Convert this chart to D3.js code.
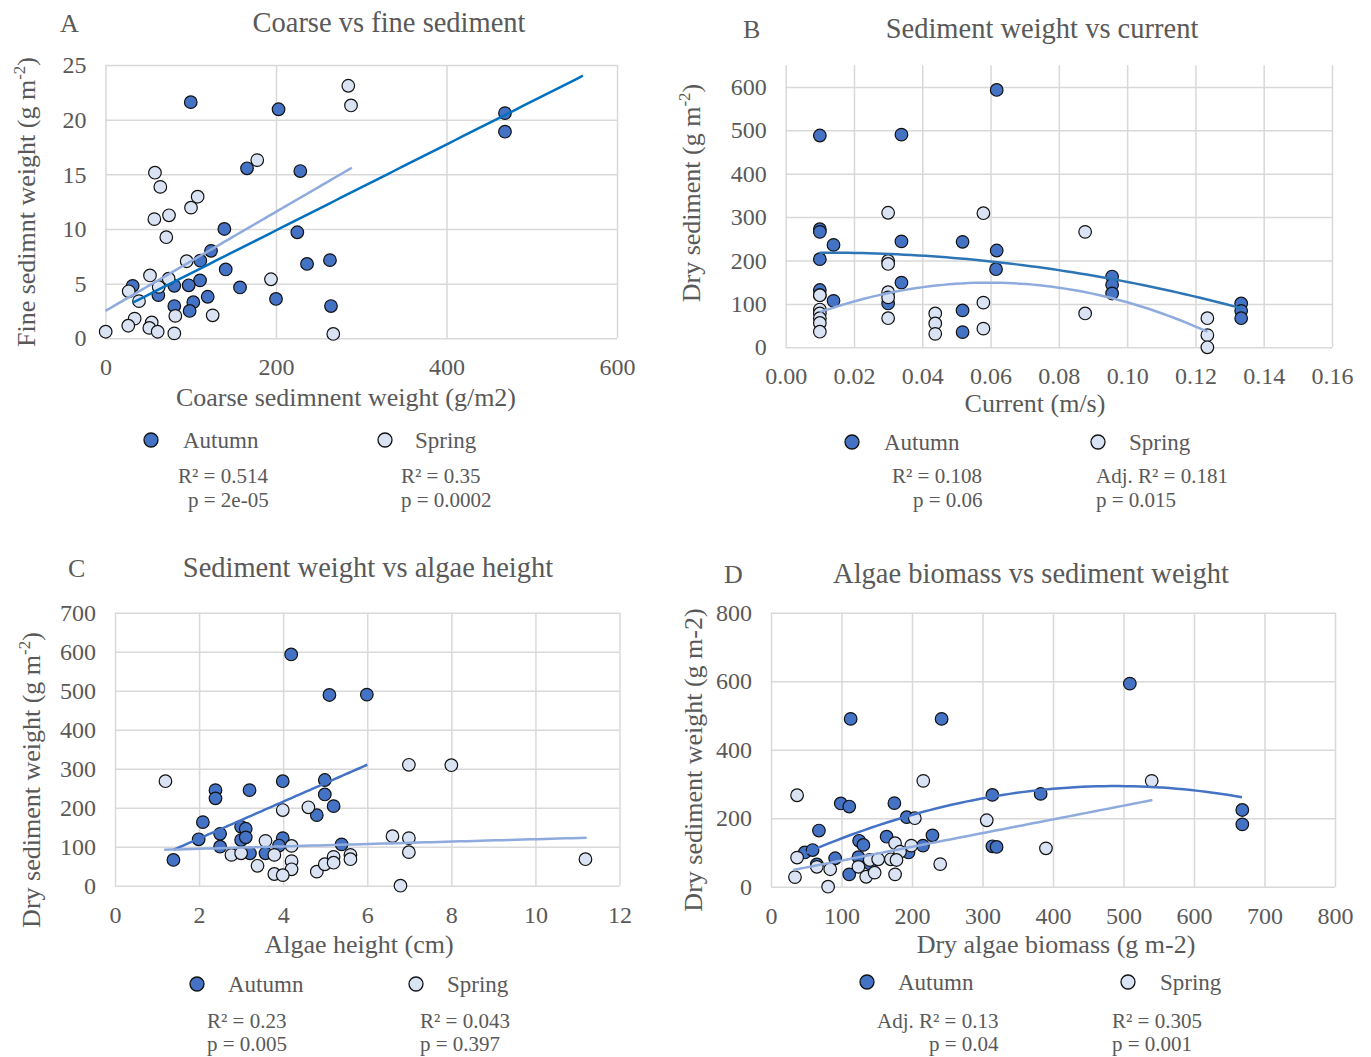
<!DOCTYPE html>
<html>
<head>
<meta charset="utf-8">
<script src="https://cdn.jsdelivr.net/npm/d3@7"></script>
<style>
body { margin: 0; background: #fff; }
text { font-family: "Liberation Serif", "Times New Roman", serif; fill: #595959; }
</style>
</head>
<body>
<svg id="chart" width="1371" height="1057"></svg>
<script>
// ---- data: [x, y] ----
var coarseAutumn = [[100,21.6],[203,20.95],[166,15.55],[228.5,15.3],[139.4,10.0],[225,9.7],[123.8,8.0],[111.2,7.1],[141,6.3],[236.4,6.8],[263.3,7.15],[157.8,4.65],[110.9,5.3],[80.7,4.8],[97.6,4.85],[31.9,4.8],[62,3.95],[119.9,3.8],[103,3.3],[80.7,2.95],[98.7,2.5],[200,3.6],[264.5,2.95],[468.6,20.6],[468.6,18.9]];
var coarseSpring = [[284.8,23.1],[288,21.3],[178,16.3],[58,15.15],[64.3,13.85],[108.1,12.95],[100.3,11.95],[57.3,10.9],[74.5,11.25],[71.3,9.25],[95.2,7.05],[52.2,5.75],[74.1,5.45],[62.4,4.7],[27.2,4.3],[39.3,3.4],[194.1,5.4],[34.2,1.8],[26.7,1.15],[54.2,1.45],[51.4,0.95],[61.2,0.6],[0.2,0.6],[80.7,0.45],[81.9,2.05],[125.7,2.1],[267.2,0.4]];

var currentAutumn = [[0.0618,593],[0.01,488],[0.0339,490],[0.01,272],[0.01,266],[0.014,236],[0.0339,244],[0.0518,243],[0.01,203],[0.0618,223],[0.0616,180],[0.0339,149],[0.01,132],[0.01,120],[0.014,107],[0.0518,85],[0.0518,35],[0.03,101],[0.0956,163],[0.0956,144],[0.0956,124],[0.1334,101],[0.1334,84],[0.1334,67]];
var currentSpring = [[0.03,310],[0.0579,309],[0.03,199],[0.03,192],[0.03,127],[0.03,115],[0.03,67],[0.01,120],[0.01,87],[0.01,78],[0.01,67],[0.01,56],[0.01,36],[0.0438,78],[0.0438,55],[0.0438,31],[0.0579,103],[0.0579,43],[0.0877,266],[0.0877,78],[0.1235,67],[0.1235,28],[0.1235,0]];

var heightAutumn = [[4.19,593],[5.10,489],[5.99,490],[3.99,268],[4.99,271],[2.39,245],[2.39,224],[3.2,245],[4.99,234],[5.2,204],[4.8,181],[2.09,163],[3.0,151],[3.11,146],[1.99,119],[2.5,133],[3.0,117],[3.11,124],[3.99,122],[5.39,106],[2.5,100],[1.39,66],[3.21,83],[3.58,83],[3.9,103]];
var heightSpring = [[1.2,268],[3.99,194],[4.6,201],[3.58,115],[4.2,102],[2.77,79],[3.0,83],[3.79,79],[3.39,51],[4.2,63],[4.2,42],[3.79,30],[3.99,27],[4.8,36],[4.99,55],[5.2,74],[5.2,59],[5.6,79],[5.6,68],[6.99,310],[8.0,309],[6.6,127],[6.99,122],[6.99,86],[6.79,0],[11.19,68]];

var biomassAutumn = [[113,490],[242,490],[99,243],[111,234],[175,244],[314,268],[382.5,271],[192.5,203],[68,164],[125,134],[131,122],[164,146],[229,150],[215.6,120],[195,100],[314,118],[320,116],[48,100],[59,107],[91,83],[65,65],[124,86],[111,36],[140,68],[509,593],[668.5,224],[668.5,182]];
var biomassSpring = [[37,267],[216,309],[306,194],[390,112],[240,66],[204,200],[176,127],[199,120],[183,102],[170,80],[178,78],[176,36],[37,85],[34,28],[81,0],[65,58],[84,51],[124,58],[135,29],[147,41],[140,78],[152,80],[540,309]];

// trend line coefficients (a + b*x + c*x^2) and x range, as drawn in the figure
var trendCoarseAutumn = {coef: [2.01, 0.0393], range: [32, 560]};
var trendCoarseSpring = {coef: [2.51, 0.0453], range: [0, 289]};
var trendCurrentAutumn = {coef: [216.8, 204.7, -8660], range: [0.01, 0.1334]};
var trendCurrentSpring = {coef: [50.8, 3295.5, -27655], range: [0.01, 0.1235]};
var trendHeightAutumn = {coef: [26.3, 47.3], range: [1.39, 6.0]};
var trendHeightSpring = {coef: [88.4, 3.08], range: [1.17, 11.22]};
var trendBiomassAutumn = {coef: [52.1, 0.9897, -0.001013], range: [50, 668]};
var trendBiomassSpring = {coef: [36.3, 0.4005], range: [31.6, 541]};

// tick values
var coarseXTicks = [0, 200, 400, 600];
var coarseYTicks = [0, 5, 10, 15, 20, 25];
var currentXTicks = [0, 0.02, 0.04, 0.06, 0.08, 0.10, 0.12, 0.14, 0.16];
var currentYTicks = [0, 100, 200, 300, 400, 500, 600];
var heightXTicks = [0, 2, 4, 6, 8, 10, 12];
var heightYTicks = [0, 100, 200, 300, 400, 500, 600, 700];
var biomassXTicks = [0, 100, 200, 300, 400, 500, 600, 700, 800];
var biomassYTicks = [0, 200, 400, 600, 800];

var AUTUMN = "#4472C4", SPRING = "#DAE3F3", SPRING_LINE = "#8FAADC";

var svg = d3.select("#chart");
svg.append("rect").attr("width", 1371).attr("height", 1057).attr("fill", "#fff");

function trendValue(coef, x) {
    var v = 0;
    for (var i = 0; i < coef.length; i++) v += coef[i] * Math.pow(x, i);
    return v;
}

// y axis title with optional superscript
function yTitle(g, x, y, main, sup, tail) {
    var t = g.append("text")
        .attr("transform", "translate(" + x + "," + y + ") rotate(-90)")
        .attr("text-anchor", "middle")
        .attr("font-size", 26);
    t.append("tspan").text(main);
    if (sup) {
        t.append("tspan").attr("font-size", 17).attr("dy", -10).text(sup);
        t.append("tspan").attr("dy", 10).text(tail);
    }
}

function drawPanel(p) {
    var g = svg.append("g");
    var x = d3.scaleLinear().domain(p.xDomain).range([p.left, p.right]);
    var y = d3.scaleLinear().domain(p.yDomain).range([p.bottom, p.top]);

    var yAxis = g.append("g")
        .attr("transform", "translate(" + p.left + ",0)")
        .call(d3.axisLeft(y).tickValues(p.yTicks).tickSize(-(p.right - p.left)).tickPadding(19).tickFormat(p.yFormat));
    var xAxis = g.append("g")
        .attr("transform", "translate(0," + p.bottom + ")")
        .call(d3.axisBottom(x).tickValues(p.xTicks).tickSize(-(p.bottom - p.top)).tickPadding(20).tickFormat(p.xFormat));
    [yAxis, xAxis].forEach(function(a) {
        a.select(".domain").remove();
        a.attr("font-size", 24);
        a.selectAll("line").attr("stroke", "#d9d9d9").attr("stroke-width", 1.5);
    });

    // markers
    g.append("g").selectAll("circle").data(p.autumn).join("circle")
        .attr("cx", function(d) { return x(d[0]); })
        .attr("cy", function(d) { return y(d[1]); })
        .attr("r", 6.3)
        .attr("fill", AUTUMN).attr("stroke", "#111").attr("stroke-width", 1.2);
    g.append("g").selectAll("circle").data(p.spring).join("circle")
        .attr("cx", function(d) { return x(d[0]); })
        .attr("cy", function(d) { return y(d[1]); })
        .attr("r", 6.3)
        .attr("fill", SPRING).attr("stroke", "#111").attr("stroke-width", 1.2);

    // trend lines
    var line = d3.line()
        .x(function(d) { return x(d); })
        .y(function(d) { return y(d.v); });
    [[p.trendA, p.autumnLine], [p.trendS, SPRING_LINE]].forEach(function(t) {
        var tr = t[0];
        var xs = d3.range(0, 61).map(function(i) {
            var xv = tr.range[0] + (tr.range[1] - tr.range[0]) * i / 60;
            var o = new Number(xv);
            o.v = trendValue(tr.coef, xv);
            return o;
        });
        g.append("path").datum(xs)
            .attr("d", line)
            .attr("fill", "none")
            .attr("stroke", t[1])
            .attr("stroke-width", 2.5);
    });

    // texts
    g.append("text").attr("x", p.letter[0]).attr("y", p.letter[1]).attr("font-size", 26).text(p.letterText);
    g.append("text").attr("x", p.title[0]).attr("y", p.title[1]).attr("text-anchor", "middle")
        .attr("font-size", 28.5).text(p.titleText);
    g.append("text").attr("x", p.xTitle[0]).attr("y", p.xTitle[1]).attr("text-anchor", "middle")
        .attr("font-size", 26).text(p.xTitleText);
    yTitle(g, p.yTitle[0], p.yTitle[1], p.yTitleText[0], p.yTitleText[1], p.yTitleText[2]);

    // legend
    var lg = p.legend;
    g.append("circle").attr("cx", lg.am).attr("cy", lg.y - 8).attr("r", 7)
        .attr("fill", AUTUMN).attr("stroke", "#111").attr("stroke-width", 1.3);
    g.append("text").attr("x", lg.at).attr("y", lg.y).attr("font-size", 23).text("Autumn");
    g.append("circle").attr("cx", lg.sm).attr("cy", lg.y - 8).attr("r", 7)
        .attr("fill", SPRING).attr("stroke", "#111").attr("stroke-width", 1.3);
    g.append("text").attr("x", lg.st).attr("y", lg.y).attr("font-size", 23).text("Spring");

    lg.stats.forEach(function(s) {
        g.append("text").attr("x", s[0]).attr("y", s[1]).attr("font-size", 21).text(s[2]);
    });
}

drawPanel({
    left: 105.5, right: 617, top: 65, bottom: 338.3,
    xDomain: [0, 600], yDomain: [0, 25],
    xTicks: coarseXTicks, yTicks: coarseYTicks,
    xFormat: d3.format("d"), yFormat: d3.format("d"),
    autumn: coarseAutumn, spring: coarseSpring,
    trendA: trendCoarseAutumn, trendS: trendCoarseSpring, autumnLine: "#0070C0",
    letter: [60, 32], letterText: "A",
    title: [389, 32], titleText: "Coarse vs fine sediment",
    xTitle: [346, 406], xTitleText: "Coarse sedimnent weight (g/m2)",
    yTitle: [35, 202], yTitleText: ["Fine sedimnt weight (g m", "-2", ")"],
    legend: {y: 448, am: 151, at: 183, sm: 385, st: 415,
        stats: [[178, 483, "R² = 0.514"], [188, 507, "p = 2e-05"], [401, 483, "R² = 0.35"], [401, 507, "p = 0.0002"]]}
});

drawPanel({
    left: 785.7, right: 1332, top: 65.2, bottom: 347.3,
    xDomain: [0, 0.16], yDomain: [0, 650],
    xTicks: currentXTicks, yTicks: currentYTicks,
    xFormat: d3.format(".2f"), yFormat: d3.format("d"),
    autumn: currentAutumn, spring: currentSpring,
    trendA: trendCurrentAutumn, trendS: trendCurrentSpring, autumnLine: "#2E75B6",
    letter: [743, 38], letterText: "B",
    title: [1042, 38], titleText: "Sediment weight vs current",
    xTitle: [1035, 412], xTitleText: "Current (m/s)",
    yTitle: [700, 193], yTitleText: ["Dry sediment (g m", "-2", ")"],
    legend: {y: 450, am: 852, at: 884, sm: 1098, st: 1129,
        stats: [[892, 483, "R² = 0.108"], [913, 507, "p = 0.06"], [1096, 483, "Adj. R² = 0.181"], [1096, 507, "p = 0.015"]]}
});

drawPanel({
    left: 115, right: 619.5, top: 612.7, bottom: 885.7,
    xDomain: [0, 12], yDomain: [0, 700],
    xTicks: heightXTicks, yTicks: heightYTicks,
    xFormat: d3.format("d"), yFormat: d3.format("d"),
    autumn: heightAutumn, spring: heightSpring,
    trendA: trendHeightAutumn, trendS: trendHeightSpring, autumnLine: AUTUMN,
    letter: [68, 577], letterText: "C",
    title: [368, 577], titleText: "Sediment weight vs algae height",
    xTitle: [359, 953], xTitleText: "Algae height (cm)",
    yTitle: [40, 780], yTitleText: ["Dry sediment weight (g m", "-2", ")"],
    legend: {y: 992, am: 197, at: 228, sm: 416, st: 447,
        stats: [[207, 1028, "R² = 0.23"], [207, 1051, "p = 0.005"], [420, 1028, "R² = 0.043"], [420, 1051, "p = 0.397"]]}
});

drawPanel({
    left: 771, right: 1335, top: 612.7, bottom: 886.7,
    xDomain: [0, 800], yDomain: [0, 800],
    xTicks: biomassXTicks, yTicks: biomassYTicks,
    xFormat: d3.format("d"), yFormat: d3.format("d"),
    autumn: biomassAutumn, spring: biomassSpring,
    trendA: trendBiomassAutumn, trendS: trendBiomassSpring, autumnLine: AUTUMN,
    letter: [724, 583], letterText: "D",
    title: [1031, 583], titleText: "Algae biomass vs sediment weight",
    xTitle: [1056, 953], xTitleText: "Dry algae biomass (g m-2)",
    yTitle: [702, 760], yTitleText: ["Dry sediment weight (g m-2)"],
    legend: {y: 990, am: 867, at: 898, sm: 1128, st: 1160,
        stats: [[877, 1028, "Adj. R² = 0.13"], [929, 1051, "p = 0.04"], [1112, 1028, "R² = 0.305"], [1112, 1051, "p = 0.001"]]}
});
</script>
</body>
</html>
